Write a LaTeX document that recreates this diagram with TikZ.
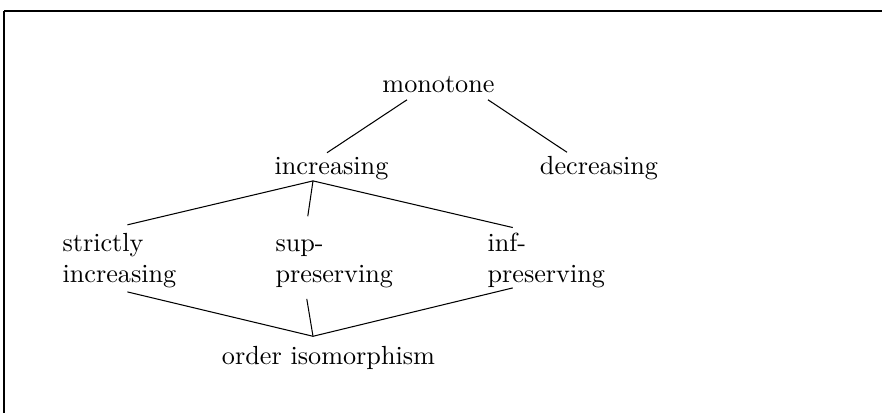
\documentclass[tikz,border=0pt]{standalone}
\usetikzlibrary{calc}
\begin{document}
\begin{tikzpicture}
  [x=0.01341cm,y=-0.01341cm,every node/.style={inner sep=0pt,font=\normalsize}]
  \useasboundingbox (0,0) rectangle (882,413);
  % Marco
  \draw[line width=0.8pt] (882,11) -- (4,11);
  \draw[line width=0.6pt] (4,11) -- (4,413);

  % Nodos
  \node (mono) at (438.5,93) [anchor=base] {monotone};
  \node (inc) at (331.5,175) [anchor=base] {increasing};
  \node (dec) at (599,175) [anchor=base] {decreasing};
  \node (strict) at (62,283) [anchor=base west,align=left] {strictly\\increasing};
  \node (sup) at (275,283) [anchor=base west,align=left] {sup-\\preserving};
  \node (inf) at (487,283) [anchor=base west,align=left] {inf-\\preserving};
  \node (iso) at (328.5,365) [anchor=base] {order isomorphism};

  % Aristas
  \draw ($(mono.south)+(-31.5,6)$) -- ($(inc.north)+(-4.5,-4.5)$);
  \draw ($(mono.south)+(49.5,6)$) -- ($(dec.north)+(-32,-4)$);
  \draw ($(inc.south)+(-18.5,0)$) -- ($(strict.north)+(8,-8)$);
  \draw ($(inc.south)+(-18.5,0)$) -- ($(sup.north)+(-26.5,-23)$);
  \draw ($(inc.south)+(-18.5,0)$) -- ($(inf.north)+(-33.5,-5)$);
  \draw ($(strict.south)+(8,3)$) -- ($(iso.north)+(-15.5,-10)$);
  \draw ($(sup.south)+(-27.5,10)$) -- ($(iso.north)+(-15.5,-10)$);
  \draw ($(inf.south)+(-33.5,-1)$) -- ($(iso.north)+(-15.5,-10)$);
\end{tikzpicture}
\end{document}
